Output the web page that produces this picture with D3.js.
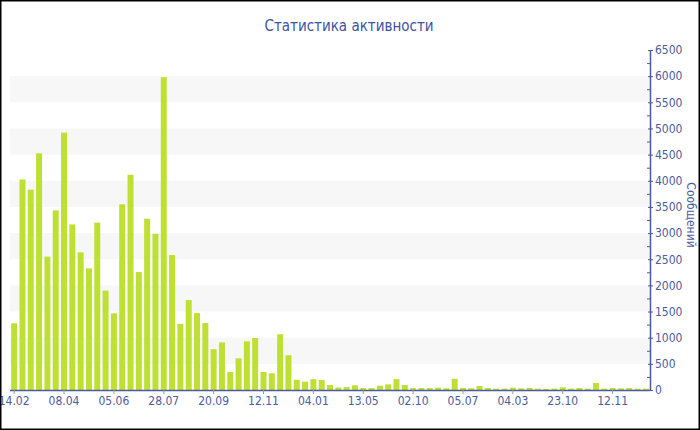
<!DOCTYPE html>
<html>
<head>
<meta charset="utf-8">
<script src="https://cdn.jsdelivr.net/npm/d3@7"></script>
<style>
  html, body { margin: 0; padding: 0; background: #fff; }
  svg { display: block; }
</style>
</head>
<body>
<svg id="chart" width="700" height="430"></svg>
<script>
const title = "Статистика активности";
const yTitle = "Сообщений";
const values = [
  1275, 4025, 3830, 4525, 2550, 3435, 4920, 3165, 2630, 2325,
  3200, 1900, 1465, 3550, 4115, 2255, 3275, 2985, 5980, 2580,
  1265, 1720, 1470, 1280, 780, 910, 345, 605, 930, 995,
  345, 320, 1065, 665, 195, 160, 207, 191, 96, 48,
  56, 89, 38, 38, 83, 108, 207, 96, 38, 38,
  38, 45, 32, 214, 38, 32, 76, 38, 26, 26,
  45, 32, 38, 26, 19, 26, 51, 26, 38, 26,
  134, 26, 38, 32, 38, 26, 26
];
const categories = values.map((v, i) => i);
const tickLabels = ["14.02", "08.04", "05.06", "28.07", "20.09", "12.11", "04.01", "13.05", "02.10", "05.07", "04.03", "23.10", "12.11"];
const tickEvery = 6;
const yMax = 6500;

const svg = d3.select("#chart");
const W = 700, H = 430;
const mLeft = 10, mRight = 650, mTop = 50, mBottom = 390;
const axisColor = "#4a5a9c";
const textColor = "#4d5c9c";
const font = "DejaVu Sans Condensed, DejaVu Sans, sans-serif";

const x = d3.scaleBand().domain(categories).range([mLeft, mRight]).paddingInner(0.28).paddingOuter(0.14);
const y = d3.scaleLinear().domain([0, yMax]).range([mBottom, mTop]);

// stripes
const stripes = d3.range(500, yMax, 1000).filter(v => v + 500 <= 6000);
svg.append("g").selectAll("rect").data(stripes).join("rect")
  .attr("x", mLeft).attr("width", mRight - mLeft)
  .attr("y", d => y(d + 500)).attr("height", d => y(d) - y(d + 500))
  .attr("fill", "#f7f7f7");

// bars
svg.append("g").selectAll("rect").data(values).join("rect")
  .attr("x", (d, i) => x(categories[i]))
  .attr("width", x.bandwidth())
  .attr("y", d => y(d))
  .attr("height", d => y(0) - y(d))
  .attr("fill", "#bde032");

// x axis
const tickVals = tickLabels.map((t, i) => categories[i * tickEvery]);
const xAxis = d3.axisBottom(x).tickValues(tickVals)
  .tickFormat((d) => tickLabels[tickVals.indexOf(d)])
  .tickSizeInner(4).tickSizeOuter(0).tickPadding(2);
const gx = svg.append("g").attr("transform", `translate(0,${mBottom})`).call(xAxis);
gx.select(".domain").attr("stroke", axisColor).attr("stroke-width", 1.5).attr("d", `M${mLeft},0.5H${mRight}`);
gx.selectAll(".tick line").attr("stroke", "#999");
gx.selectAll("text").attr("fill", textColor).style("font-family", font).style("font-size", "12px");

// y axis (right)
const minor = d3.range(0, yMax + 1, 250).filter(v => v % 500 !== 0);
svg.append("g").selectAll("line").data(minor).join("line")
  .attr("x1", mRight - 3).attr("x2", mRight)
  .attr("y1", d => y(d) + 0.5).attr("y2", d => y(d) + 0.5)
  .attr("stroke", axisColor);
const yAxis = d3.axisRight(y).tickValues(d3.range(0, yMax + 1, 500))
  .tickFormat(d3.format("d")).tickSizeInner(3).tickSizeOuter(0).tickPadding(2);
const gy = svg.append("g").attr("transform", `translate(${mRight},0)`).call(yAxis);
gy.select(".domain").attr("stroke", axisColor).attr("stroke-width", 1.5);
gy.selectAll(".tick line").attr("stroke", axisColor).attr("x1", -2);
gy.selectAll("text").attr("fill", textColor).style("font-family", font).style("font-size", "12px");

// y title (rotated)
svg.append("text")
  .attr("transform", `translate(687,${(mTop + mBottom) / 2 - 5}) rotate(90)`)
  .attr("text-anchor", "middle")
  .attr("fill", textColor)
  .style("font-family", font).style("font-size", "12px")
  .text(yTitle);

// title
svg.append("text")
  .attr("x", 349).attr("y", 31)
  .attr("text-anchor", "middle")
  .attr("fill", "#4052a0")
  .style("font-family", font).style("font-size", "15px")
  .text(title);

// border
svg.append("rect").attr("x", 0.75).attr("y", 0.75).attr("width", W - 1.5).attr("height", H - 1.5)
  .attr("fill", "none").attr("stroke", "#000").attr("stroke-width", 1.5);
</script>
</body>
</html>
